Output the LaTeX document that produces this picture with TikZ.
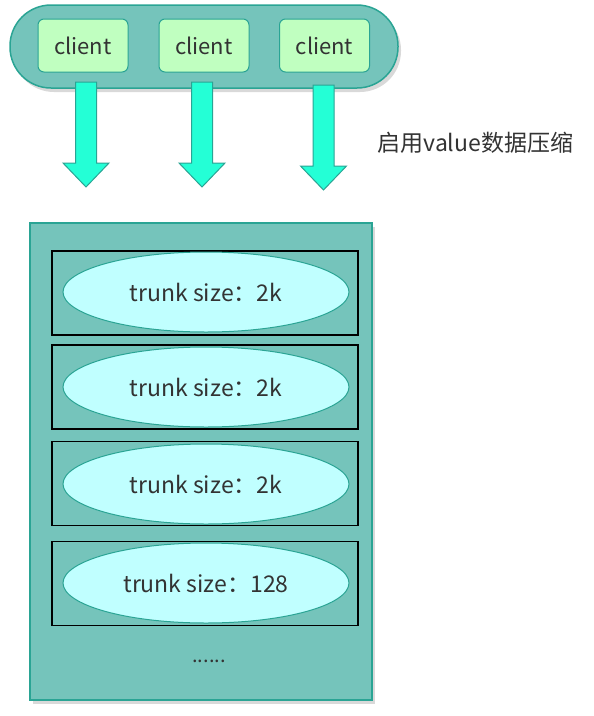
\documentclass[tikz,border=0pt]{standalone}
\usepackage{fontspec}
\setmainfont{Noto Sans CJK SC}
\usetikzlibrary{shapes.geometric,shadows,positioning}
\definecolor{poolfill}{RGB}{117,196,187}
\definecolor{tealline}{RGB}{42,164,148}
\definecolor{clientfill}{RGB}{192,255,192}
\definecolor{arrowfill}{RGB}{36,255,214}
\definecolor{trunkfill}{RGB}{192,255,255}
\definecolor{txt}{RGB}{51,51,51}

\begin{document}
\begin{tikzpicture}[x=1pt,y=-1pt,
  every node/.style={text=txt,font=\fontsize{23}{27}\selectfont},
  pool/.style={draw=tealline,line width=1.5pt,fill=poolfill,rounded corners=41pt,
    minimum width=388pt,minimum height=83pt,
    drop shadow={shadow xshift=3pt,shadow yshift=-4pt,opacity=0.3}},
  clientbox/.style={draw=tealline,line width=1pt,fill=clientfill,rounded corners=6pt,
    minimum width=90pt,minimum height=53pt,font=\fontsize{22}{26}\selectfont},
  blockarrow/.style={draw=tealline,line width=1pt,fill=arrowfill},
  store/.style={draw=tealline,line width=1.5pt,fill=poolfill,
    minimum width=342pt,minimum height=477pt,
    drop shadow={shadow xshift=3pt,shadow yshift=-4pt,opacity=0.3}},
  slot/.style={draw=black,line width=1.5pt,minimum width=306pt,minimum height=84pt},
  trunk/.style={ellipse,draw=tealline,line width=1pt,fill=trunkfill,inner sep=0pt,
    minimum width=286pt,minimum height=80pt}]
\useasboundingbox (0,0) rectangle (594,716);

% clients
\node[pool] (pool) at (204,46.5) {};
\node[clientbox] (client1) at (83,45.5) {client};
\node[clientbox] (client2) at (204,45.5) {client};
\node[clientbox] (client3) at (324.5,45.5) {client};

% arrows
\foreach \x/\t/\b in {86/82/163,202/82/163,323.5/85/166}
  \draw[blockarrow] (\x-10.5,\t) -- (\x+10.5,\t) -- (\x+10.5,\b) -- (\x+23,\b)
    -- (\x,\b+24) -- (\x-23,\b) -- (\x-10.5,\b) -- cycle;
\node[anchor=west] (note) at (374,143) {启用value数据压缩};

% storage
\node[store] (store) at (201,461.5) {};
\node[slot] (slot1) at (205,293) {};
\node[slot] (slot2) at (205,387) {};
\node[slot] (slot3) at (205,483.5) {};
\node[slot] (slot4) at (205,583.5) {};
\node[trunk] (trunk1) at (206,292) {trunk size：2k};
\node[trunk] (trunk2) at (206,387) {trunk size：2k};
\node[trunk] (trunk3) at (206,484) {trunk size：2k};
\node[trunk] (trunk4) at (206,583) {trunk size：128};
\node[font=\fontsize{20}{24}\selectfont] (more) at (209,661) {......};
\end{tikzpicture}
\end{document}
